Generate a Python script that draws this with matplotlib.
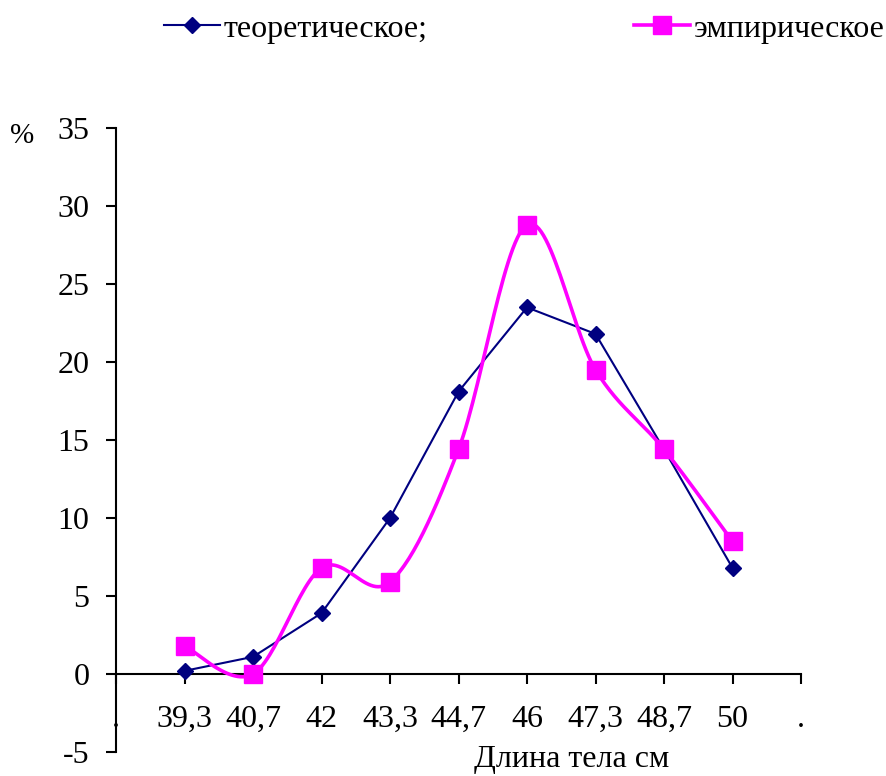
import numpy as np
import matplotlib
matplotlib.use("Agg")
import matplotlib.pyplot as plt

plt.rcParams['font.family'] = ['Liberation Serif', 'DejaVu Serif']
plt.rcParams['axes.unicode_minus'] = False

# categories along the x axis (body length, cm); the dots are empty end slots
length_labels = ['.', '39,3', '40,7', '42', '43,3', '44,7', '46', '47,3', '48,7', '50', '.']
theor = [0.2, 1.1, 3.9, 10.0, 18.1, 23.5, 21.8, 14.4, 6.8]
empir = [1.8, 0.0, 6.8, 5.9, 14.4, 28.8, 19.5, 14.4, 8.5]
y_ticks = [-5, 0, 5, 10, 15, 20, 25, 30, 35]

NAVY = '#000080'
MAGENTA = '#FF00FF'


def smooth(xs, ys, n=30):
    # Catmull-Rom style cubic bezier through the points (like a spreadsheet "smoothed line")
    p = np.column_stack([xs, ys]).astype(float)
    ext = np.vstack([p[0], p, p[-1]])
    out = []
    t = np.linspace(0, 1, n)[:, None]
    for i in range(len(p) - 1):
        p0, p1, p2, p3 = ext[i], ext[i + 1], ext[i + 2], ext[i + 3]
        c1 = p1 + (p2 - p0) / 6.0
        c2 = p2 - (p3 - p1) / 6.0
        seg = ((1 - t) ** 3) * p1 + 3 * ((1 - t) ** 2) * t * c1 + 3 * (1 - t) * t ** 2 * c2 + t ** 3 * p2
        out.append(seg if i == 0 else seg[1:])
    s = np.vstack(out)
    return s[:, 0], s[:, 1]


fig = plt.figure(figsize=(8.86, 7.76), dpi=100)
ax = fig.add_axes([116 / 886, 1 - 752 / 776, (801 - 116) / 886, (752 - 128) / 776])

x = np.arange(1, len(theor) + 1)

th_line, = ax.plot(x, theor, color=NAVY, lw=1.5, marker='D', ms=8,
                   mfc=NAVY, mec=NAVY, zorder=3, label='теоретическое;')

sx, sy = smooth(x, empir)
ax.plot(sx, sy, color=MAGENTA, lw=2.6, zorder=4, solid_capstyle='round')
ax.plot(x, empir, ls='none', marker='s', ms=13.5, mfc=MAGENTA, mec=MAGENTA, zorder=5)
em_handle, = ax.plot([], [], color=MAGENTA, lw=2.6, marker='s', ms=13.5,
                     mfc=MAGENTA, mec=MAGENTA, label='эмпирическое')

ax.set_xlim(0, len(length_labels) - 1)
ax.set_ylim(-5, 35)

for side in ('top', 'right'):
    ax.spines[side].set_visible(False)
ax.spines['bottom'].set_position(('data', 0))
ax.spines['left'].set_linewidth(1.5)
ax.spines['bottom'].set_linewidth(1.5)

ax.set_xticks(range(len(length_labels)))
ax.set_xticklabels(length_labels)
ax.set_yticks(y_ticks)
ax.set_yticklabels([str(v) for v in y_ticks])
ax.tick_params(axis='both', direction='out', length=7, width=1.5, labelsize=23, colors='black')
ax.tick_params(axis='x', pad=15)
ax.tick_params(axis='y', pad=12)

fig.text(22 / 886, 1 - 136 / 776, '%', fontsize=21, ha='center', va='center')
fig.text(572 / 886, 1 - 760 / 776, 'Длина тела см', fontsize=23, ha='center', va='center')

# two separate legend entries spread across the top
for handle, x0 in ((th_line, 164), (em_handle, 634)):
    fig.legend(handles=[handle], loc='center left', bbox_to_anchor=(x0 / 886, 1 - 29 / 776),
               frameon=False, fontsize=23, handlelength=1.75, handletextpad=0.12,
               borderpad=0, borderaxespad=0)

fig.savefig('out.png', dpi=100)
